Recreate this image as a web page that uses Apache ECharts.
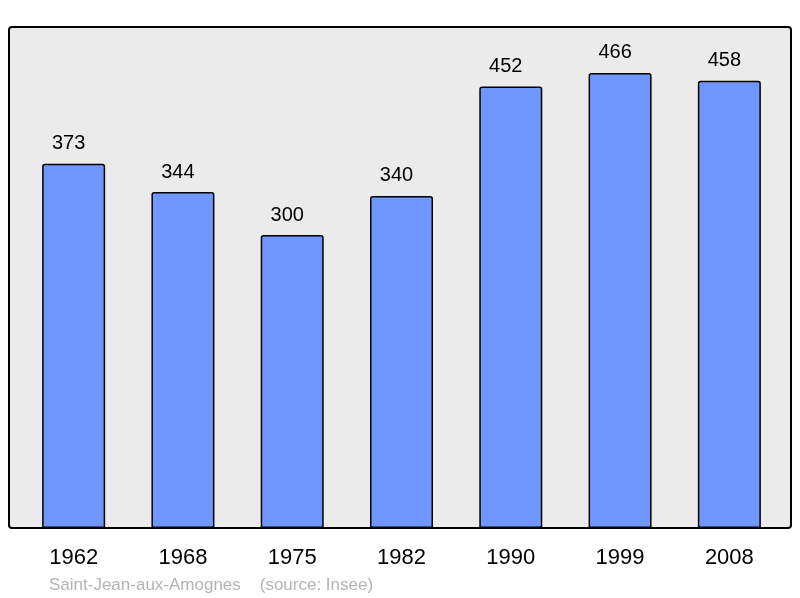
<!DOCTYPE html>
<html>
<head>
<meta charset="utf-8">
<script src="https://cdn.jsdelivr.net/npm/echarts@6/dist/echarts.min.js"></script>
<style>
  html, body { margin: 0; padding: 0; background: #fff; }
  #chart { width: 800px; height: 598px; }
</style>
</head>
<body>
<div id="chart"></div>
<script>
const years = ['1962', '1968', '1975', '1982', '1990', '1999', '2008'];
const population = [373, 344, 300, 340, 452, 466, 458];
const sourceText = 'Saint-Jean-aux-Amognes    (source: Insee)';

const myChart = echarts.init(document.getElementById('chart'));
const option = {
  animation: false,
  title: {
    text: sourceText,
    left: 44,
    top: 572,
    textStyle: {
      color: '#b3b3b3',
      fontSize: 17,
      fontWeight: 'normal',
      fontFamily: 'Liberation Sans'
    }
  },
  graphic: [
    {
      type: 'rect',
      z: -10,
      shape: {x: 9, y: 27, width: 782, height: 501, r: 3},
      style: {fill: '#ebebeb', stroke: '#000', lineWidth: 2}
    }
  ],
  grid: {
    left: 19,
    right: 16,
    top: 27,
    bottom: 70
  },
  xAxis: {
    type: 'category',
    data: years,
    axisLine: {show: false},
    axisTick: {show: false},
    axisLabel: {
      margin: 19,
      color: '#000',
      fontSize: 22,
      fontFamily: 'Liberation Sans'
    }
  },
  yAxis: {
    type: 'value',
    min: 0,
    max: 513,
    show: false,
    splitLine: {show: false}
  },
  series: [
    {
      type: 'bar',
      data: population,
      barWidth: 63,
      itemStyle: {
        color: '#7096ff',
        borderColor: '#000',
        borderWidth: 1.5,
        borderRadius: [2, 2, 0, 0]
      },
      label: {
        show: true,
        position: 'top',
        distance: 10,
        offset: [-5, 0],
        color: '#000',
        fontSize: 20,
        fontFamily: 'Liberation Sans'
      }
    }
  ]
};
myChart.setOption(option);
</script>
</body>
</html>
